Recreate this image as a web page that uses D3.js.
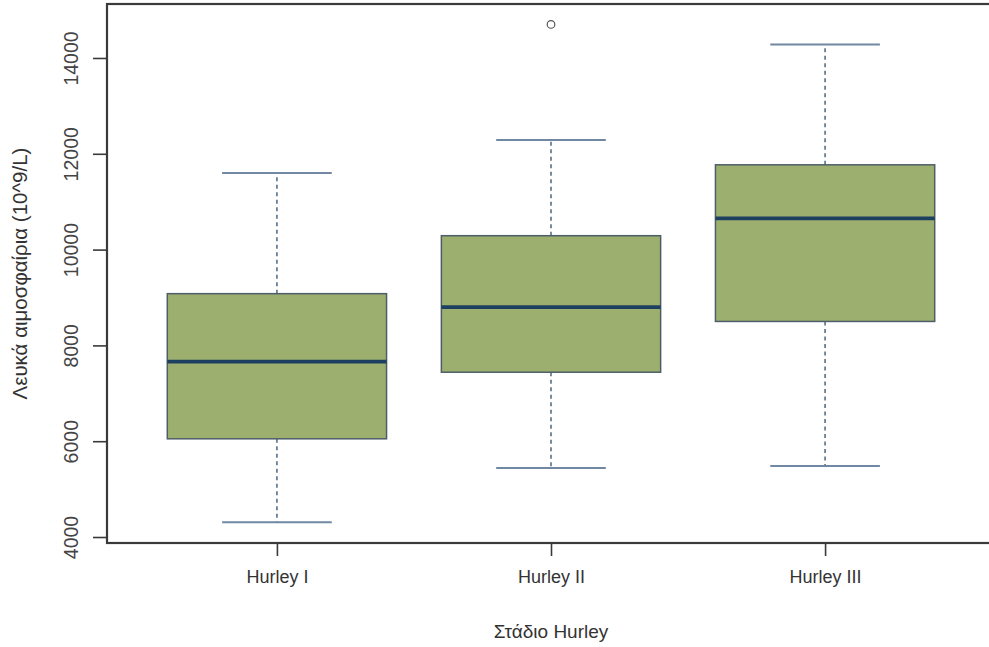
<!DOCTYPE html>
<html>
<head>
<meta charset="utf-8">
<script src="https://cdn.jsdelivr.net/npm/d3@7"></script>
<style>
  html, body { margin: 0; padding: 0; background: #fff; }
  svg { display: block; }
  text { font-family: Arial, "Liberation Sans", sans-serif; fill: #333; }
</style>
</head>
<body>
<svg id="chart" width="989" height="647"></svg>
<script>
// White blood cell counts by Hurley stage (five-number summaries)
const categories = ["Hurley I", "Hurley II", "Hurley III"];
const whiskerLow  = [4310, 5440, 5480];
const q1          = [6050, 7440, 8500];
const median      = [7660, 8800, 10650];
const q3          = [9080, 10290, 11770];
const whiskerHigh = [11600, 12290, 14280];
const outlierGroup = [1];
const outlierValue = [14700];
const yTicks = [4000, 6000, 8000, 10000, 12000, 14000];

const svg = d3.select("#chart");
const plot = { left: 107, right: 995, top: 4, bottom: 543 };

// Group positions 1..n with a 4% padded range, as in a base boxplot
const x = d3.scaleLinear().domain([0.38, 3.62]).range([plot.left, plot.right]);
const y = d3.scaleLinear().domain([3875, 15127]).range([plot.bottom, plot.top]);
const boxHalf = 0.4, capHalf = 0.2;

const colors = {
  fill: "#9daf6f",
  border: "#4e5e68",
  median: "#1e4060",
  whisker: "#55708a",
  cap: "#7088a2",
  frame: "#3a3a3a"
};

const groups = categories.map((c, i) => ({
  name: c, pos: i + 1,
  lo: whiskerLow[i], q1: q1[i], med: median[i], q3: q3[i], hi: whiskerHigh[i]
}));

const g = svg.append("g");

groups.forEach(d => {
  // Whiskers (dashed)
  [[d.q3, d.hi], [d.q1, d.lo]].forEach(([a, b]) => {
    g.append("line")
      .attr("x1", x(d.pos)).attr("x2", x(d.pos))
      .attr("y1", y(a)).attr("y2", y(b))
      .attr("stroke", colors.whisker).attr("stroke-width", 1.6)
      .attr("stroke-dasharray", "4,3.5");
  });
  // Caps
  [d.lo, d.hi].forEach(v => {
    g.append("line")
      .attr("x1", x(d.pos - capHalf)).attr("x2", x(d.pos + capHalf))
      .attr("y1", y(v)).attr("y2", y(v))
      .attr("stroke", colors.cap).attr("stroke-width", 2);
  });
  // Box
  g.append("rect")
    .attr("x", x(d.pos - boxHalf))
    .attr("width", x(d.pos + boxHalf) - x(d.pos - boxHalf))
    .attr("y", y(d.q3))
    .attr("height", y(d.q1) - y(d.q3))
    .attr("fill", colors.fill)
    .attr("stroke", colors.border).attr("stroke-width", 1.5);
  // Median
  g.append("line")
    .attr("x1", x(d.pos - boxHalf)).attr("x2", x(d.pos + boxHalf))
    .attr("y1", y(d.med)).attr("y2", y(d.med))
    .attr("stroke", colors.median).attr("stroke-width", 3.8);
});

// Outliers
outlierGroup.forEach((gi, k) => {
  g.append("circle")
    .attr("cx", x(gi + 1)).attr("cy", y(outlierValue[k]))
    .attr("r", 3.8)
    .attr("fill", "none").attr("stroke", "#555").attr("stroke-width", 1.2);
});

// Frame
svg.append("rect")
  .attr("x", plot.left).attr("y", plot.top)
  .attr("width", plot.right - plot.left).attr("height", plot.bottom - plot.top)
  .attr("fill", "none").attr("stroke", colors.frame).attr("stroke-width", 2.2);

// Y axis
const yAxis = d3.axisLeft(y).tickValues(yTicks).tickSize(14).tickPadding(16)
  .tickFormat(d3.format("d"));
const ya = svg.append("g").attr("transform", `translate(${plot.left},0)`).call(yAxis);
ya.select(".domain").remove();
ya.selectAll(".tick line").attr("stroke", colors.frame).attr("stroke-width", 1.6);
ya.selectAll(".tick text")
  .attr("x", 0).attr("dy", 0)
  .attr("transform", "translate(-36,0) rotate(-90)")
  .attr("text-anchor", "middle")
  .attr("dominant-baseline", "central")
  .style("font-size", "19.5px").style("fill", "#444");

// X axis
const xAxis = d3.axisBottom(x).tickValues(groups.map(d => d.pos)).tickSize(13).tickPadding(14)
  .tickFormat((d, i) => categories[i]);
const xa = svg.append("g").attr("transform", `translate(0,${plot.bottom})`).call(xAxis);
xa.select(".domain").remove();
xa.selectAll(".tick line").attr("stroke", colors.frame).attr("stroke-width", 1.6);
xa.selectAll(".tick text").style("font-size", "18px").style("fill", "#333");

// Axis titles
svg.append("text")
  .attr("x", (plot.left + plot.right) / 2).attr("y", 638)
  .attr("text-anchor", "middle")
  .style("font-size", "19px")
  .text("Στάδιο Hurley");

svg.append("text")
  .attr("transform", `translate(27,${(plot.top + plot.bottom) / 2}) rotate(-90)`)
  .attr("text-anchor", "middle")
  .style("font-size", "20.5px")
  .text("Λευκά αιμοσφαίρια (10^9/L)");
</script>
</body>
</html>
